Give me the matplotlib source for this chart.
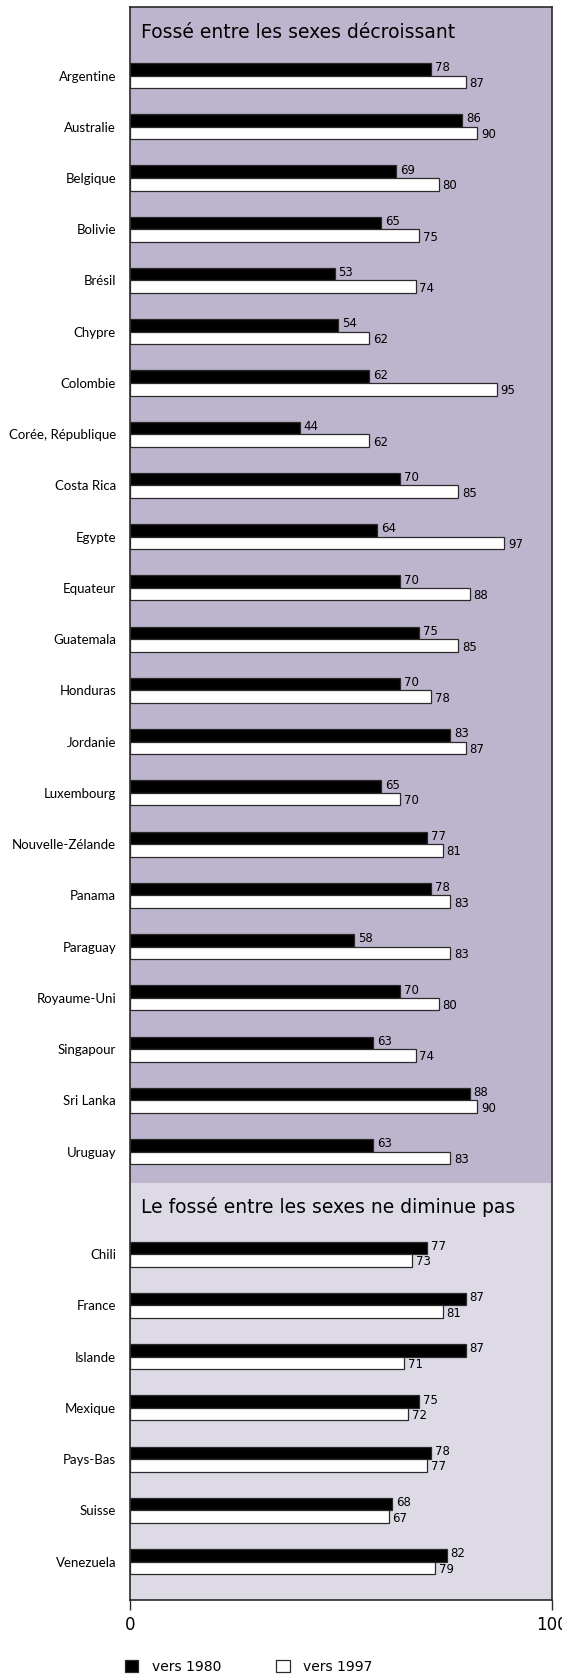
import matplotlib
matplotlib.use("Agg")
import matplotlib.pyplot as plt
from matplotlib.patches import Patch

# ---- data ----
countries_decreasing = ["Argentine", "Australie", "Belgique", "Bolivie", "Brésil", "Chypre",
                        "Colombie", "Corée, République", "Costa Rica", "Egypte", "Equateur",
                        "Guatemala", "Honduras", "Jordanie", "Luxembourg", "Nouvelle-Zélande",
                        "Panama", "Paraguay", "Royaume-Uni", "Singapour", "Sri Lanka", "Uruguay"]
v1980_decreasing = [78, 86, 69, 65, 53, 54, 62, 44, 70, 64, 70, 75, 70, 83, 65, 77, 78, 58, 70, 63, 88, 63]
v1997_decreasing = [87, 90, 80, 75, 74, 62, 95, 62, 85, 97, 88, 85, 78, 87, 70, 81, 83, 83, 80, 74, 90, 83]

countries_stable = ["Chili", "France", "Islande", "Mexique", "Pays-Bas", "Suisse", "Venezuela"]
v1980_stable = [77, 87, 87, 75, 78, 68, 82]
v1997_stable = [73, 81, 71, 72, 77, 67, 79]

title_top = "Fossé entre les sexes décroissant"
title_bottom = "Le fossé entre les sexes ne diminue pas"
legend_labels = ["vers 1980", "vers 1997"]
xtick_labels = ["0", "100"]

# ---- style ----
FONT = ["Lato", "DejaVu Sans"]
ROUND = ["DejaVu Sans"]
plt.rcParams["font.family"] = FONT
col_top = "#bdb5cd"
col_bottom = "#dddae6"
edge = "#2a2a2a"

W, H = 562, 1679
fig = plt.figure(figsize=(W / 100, H / 100), dpi=100)
left, right, top, bottom = 130, 551.5, 7, 1600
ax = fig.add_axes([left / W, 1 - bottom / H, (right - left) / W, (bottom - top) / H])

n1 = len(countries_decreasing)
pos1 = list(range(n1))
pos2 = list(range(n1 + 1, n1 + 1 + len(countries_stable)))
pos = pos1 + pos2
labels = countries_decreasing + countries_stable
v80 = v1980_decreasing + v1980_stable
v97 = v1997_decreasing + v1997_stable

# the reference's bar scale runs past its "100" tick at the frame's right edge
x_max = 109.2
y_top, y_bot = -1.337, 29.75
divider = n1 - 0.39
ax.set_xlim(0, x_max)
ax.set_ylim(y_bot, y_top)
ax.axhspan(y_top, divider, color=col_top, zorder=0, lw=0)
ax.axhspan(divider, y_bot, color=col_bottom, zorder=0, lw=0)

h = 0.245
ax.barh([p - h / 2 for p in pos], v80, height=h, color="black", edgecolor=edge, lw=0.9, zorder=2)
ax.barh([p + h / 2 for p in pos], v97, height=h, color="white", edgecolor=edge, lw=0.9, zorder=2)

for p, a, b in zip(pos, v80, v97):
    ax.text(a + 1.0, p - h / 2 - 0.03, str(a), va="center", ha="left", fontsize=8.5,
            family=ROUND, zorder=3)
    ax.text(b + 1.0, p + h / 2 + 0.03, str(b), va="center", ha="left", fontsize=8.5,
            family=ROUND, zorder=3)

ax.text(2.9, -0.83, title_top, va="center", ha="left", fontsize=13.5, family=ROUND)
ax.text(2.9, n1 + 0.08, title_bottom, va="center", ha="left", fontsize=13.5, family=ROUND)

ax.set_yticks(pos)
ax.set_yticklabels(labels, fontsize=9.5)
ax.tick_params(axis="y", length=0, pad=10)
ax.set_xticks([0, x_max])
ax.set_xticklabels(xtick_labels, fontsize=12, family=ROUND)
ax.tick_params(axis="x", length=7.5, width=1, pad=4, color=edge)

for s in ax.spines.values():
    s.set_color(edge)
    s.set_linewidth(1.2)

handles = [Patch(facecolor="black", edgecolor=edge, lw=0.9),
           Patch(facecolor="white", edgecolor=edge, lw=0.9)]
fig.legend(handles, legend_labels, loc="center left",
           bbox_to_anchor=(112.5 / W, 1 - 1667 / H), ncol=2, frameon=False,
           prop={"family": ROUND, "size": 10}, handlelength=0.95, handleheight=0.95,
           handletextpad=1.0, columnspacing=3.95)

fig.savefig("out.png", dpi=100)
